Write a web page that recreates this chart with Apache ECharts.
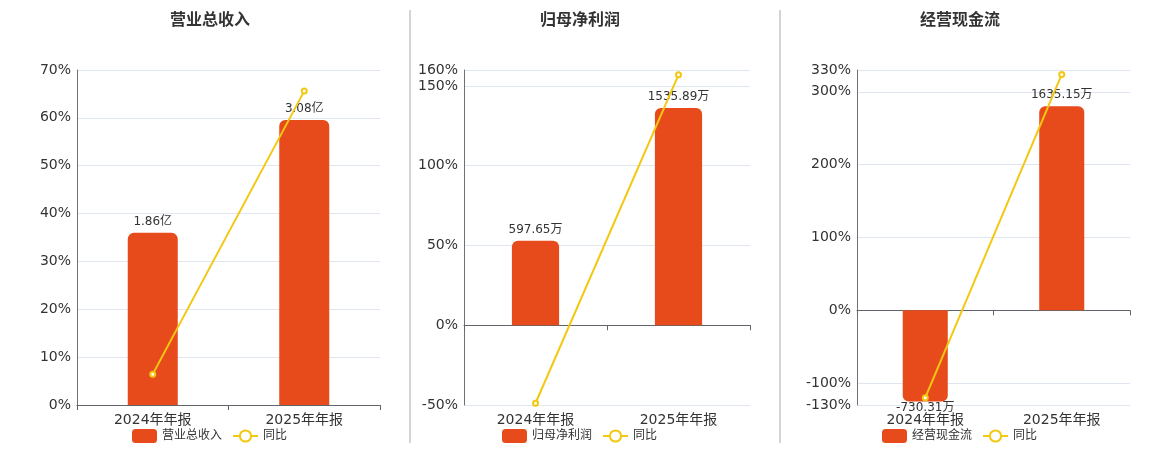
<!DOCTYPE html>
<html>
<head>
<meta charset="utf-8">
<script src="https://cdn.jsdelivr.net/npm/echarts@6/dist/echarts.min.js"></script>
<style>
html,body{margin:0;padding:0;background:#fff;}
#main{width:1160px;height:450px;}
</style>
</head>
<body>
<div id="main"></div>
<script>
const categories = ['2024年年报', '2025年年报'];
const titles = ['营业总收入', '归母净利润', '经营现金流'];
const revenue = [1.86, 3.08];
const revenueYoY = [6.45, 65.59];
const profit = [597.65, 1535.89];
const profitYoY = [-48.9, 156.99];
const cashflow = [-730.31, 1635.15];
const cashflowYoY = [-120, 323.9];
const units = ['亿', '万', '万'];
const pctMin = [0, -50, -130];
const pctMax = [70, 160, 330];
const barMin = [0, -564, -758];
const barMax = [3.62, 1805, 1925];

const FONT = "'DejaVu Sans', 'Noto Sans CJK SC', sans-serif";
const BAR_COLOR = '#e84b1b';
const LINE_COLOR = '#f2c811';
const grids = [
  {left: 77, right: 780, top: 70, bottom: 45},
  {left: 464, right: 410, top: 70, bottom: 45},
  {left: 857, right: 30, top: 70, bottom: 45}
];
const centers = [210, 580, 960];
const barData = [revenue, profit, cashflow];
const lineData = [revenueYoY, profitYoY, cashflowYoY];

const option = {
  backgroundColor: '#fff',
  textStyle: {fontFamily: FONT},
  animation: false,
  title: titles.map((t, i) => ({
    text: t,
    left: centers[i] - 5,
    textAlign: 'center',
    top: 8,
    textStyle: {fontSize: 16, fontWeight: 'bold', color: '#333', fontFamily: FONT}
  })),
  legend: titles.map((t, i) => ({
    data: [t, '同比'],
    left: centers[i] - 78,
    top: 429,
    padding: 0,
    itemGap: 10,
    itemWidth: 25,
    itemHeight: 14,
    textStyle: {fontSize: 12, color: '#333', fontFamily: FONT}
  })),
  grid: grids,
  xAxis: grids.map((g, i) => ({
    type: 'category',
    gridIndex: i,
    data: categories,
    axisLine: {onZero: true, lineStyle: {color: '#62646c'}},
    axisTick: {show: true, lineStyle: {color: '#62646c'}},
    axisLabel: {fontSize: 14, color: '#333', fontFamily: FONT, margin: 8}
  })),
  yAxis: [].concat(...grids.map((g, i) => [
    {
      type: 'value',
      gridIndex: i,
      min: pctMin[i],
      max: pctMax[i],
      axisLine: {show: true, lineStyle: {color: '#6e7079'}},
      axisTick: {show: false},
      axisLabel: {fontSize: 14, color: '#333', fontFamily: FONT, margin: 6, formatter: '{value}%'},
      splitLine: {show: true, lineStyle: {color: '#e0e6f1'}}
    },
    {
      type: 'value',
      gridIndex: i,
      min: barMin[i],
      max: barMax[i],
      show: false,
      splitLine: {show: false}
    }
  ])),
  graphic: [
    {type: 'line', shape: {x1: 410, y1: 10, x2: 410, y2: 443}, style: {stroke: '#aaa', lineWidth: 1}},
    {type: 'line', shape: {x1: 780, y1: 10, x2: 780, y2: 443}, style: {stroke: '#aaa', lineWidth: 1}}
  ],
  series: [].concat(...titles.map((t, i) => [
    {
      name: t,
      type: 'bar',
      xAxisIndex: i,
      yAxisIndex: i * 2 + 1,
      barWidth: '33%',
      itemStyle: {color: BAR_COLOR},
      data: barData[i].map(v => ({
        value: v,
        itemStyle: {borderRadius: v >= 0 ? [6, 6, 0, 0] : [0, 0, 6, 6]},
        label: {
          show: true,
          position: v >= 0 ? 'top' : 'bottom',
          distance: v >= 0 ? 5 : 0,
          fontSize: 12,
          color: '#333',
          fontFamily: FONT,
          formatter: p => p.value + units[i]
        }
      }))
    },
    {
      name: '同比',
      type: 'line',
      xAxisIndex: i,
      yAxisIndex: i * 2,
      z: 5,
      symbol: 'emptyCircle',
      symbolSize: 5,
      lineStyle: {color: LINE_COLOR, width: 2},
      itemStyle: {color: LINE_COLOR},
      data: lineData[i]
    }
  ]))
};
const chart = echarts.init(document.getElementById('main'), null, {renderer: 'canvas'});
chart.setOption(option);
</script>
</body>
</html>
